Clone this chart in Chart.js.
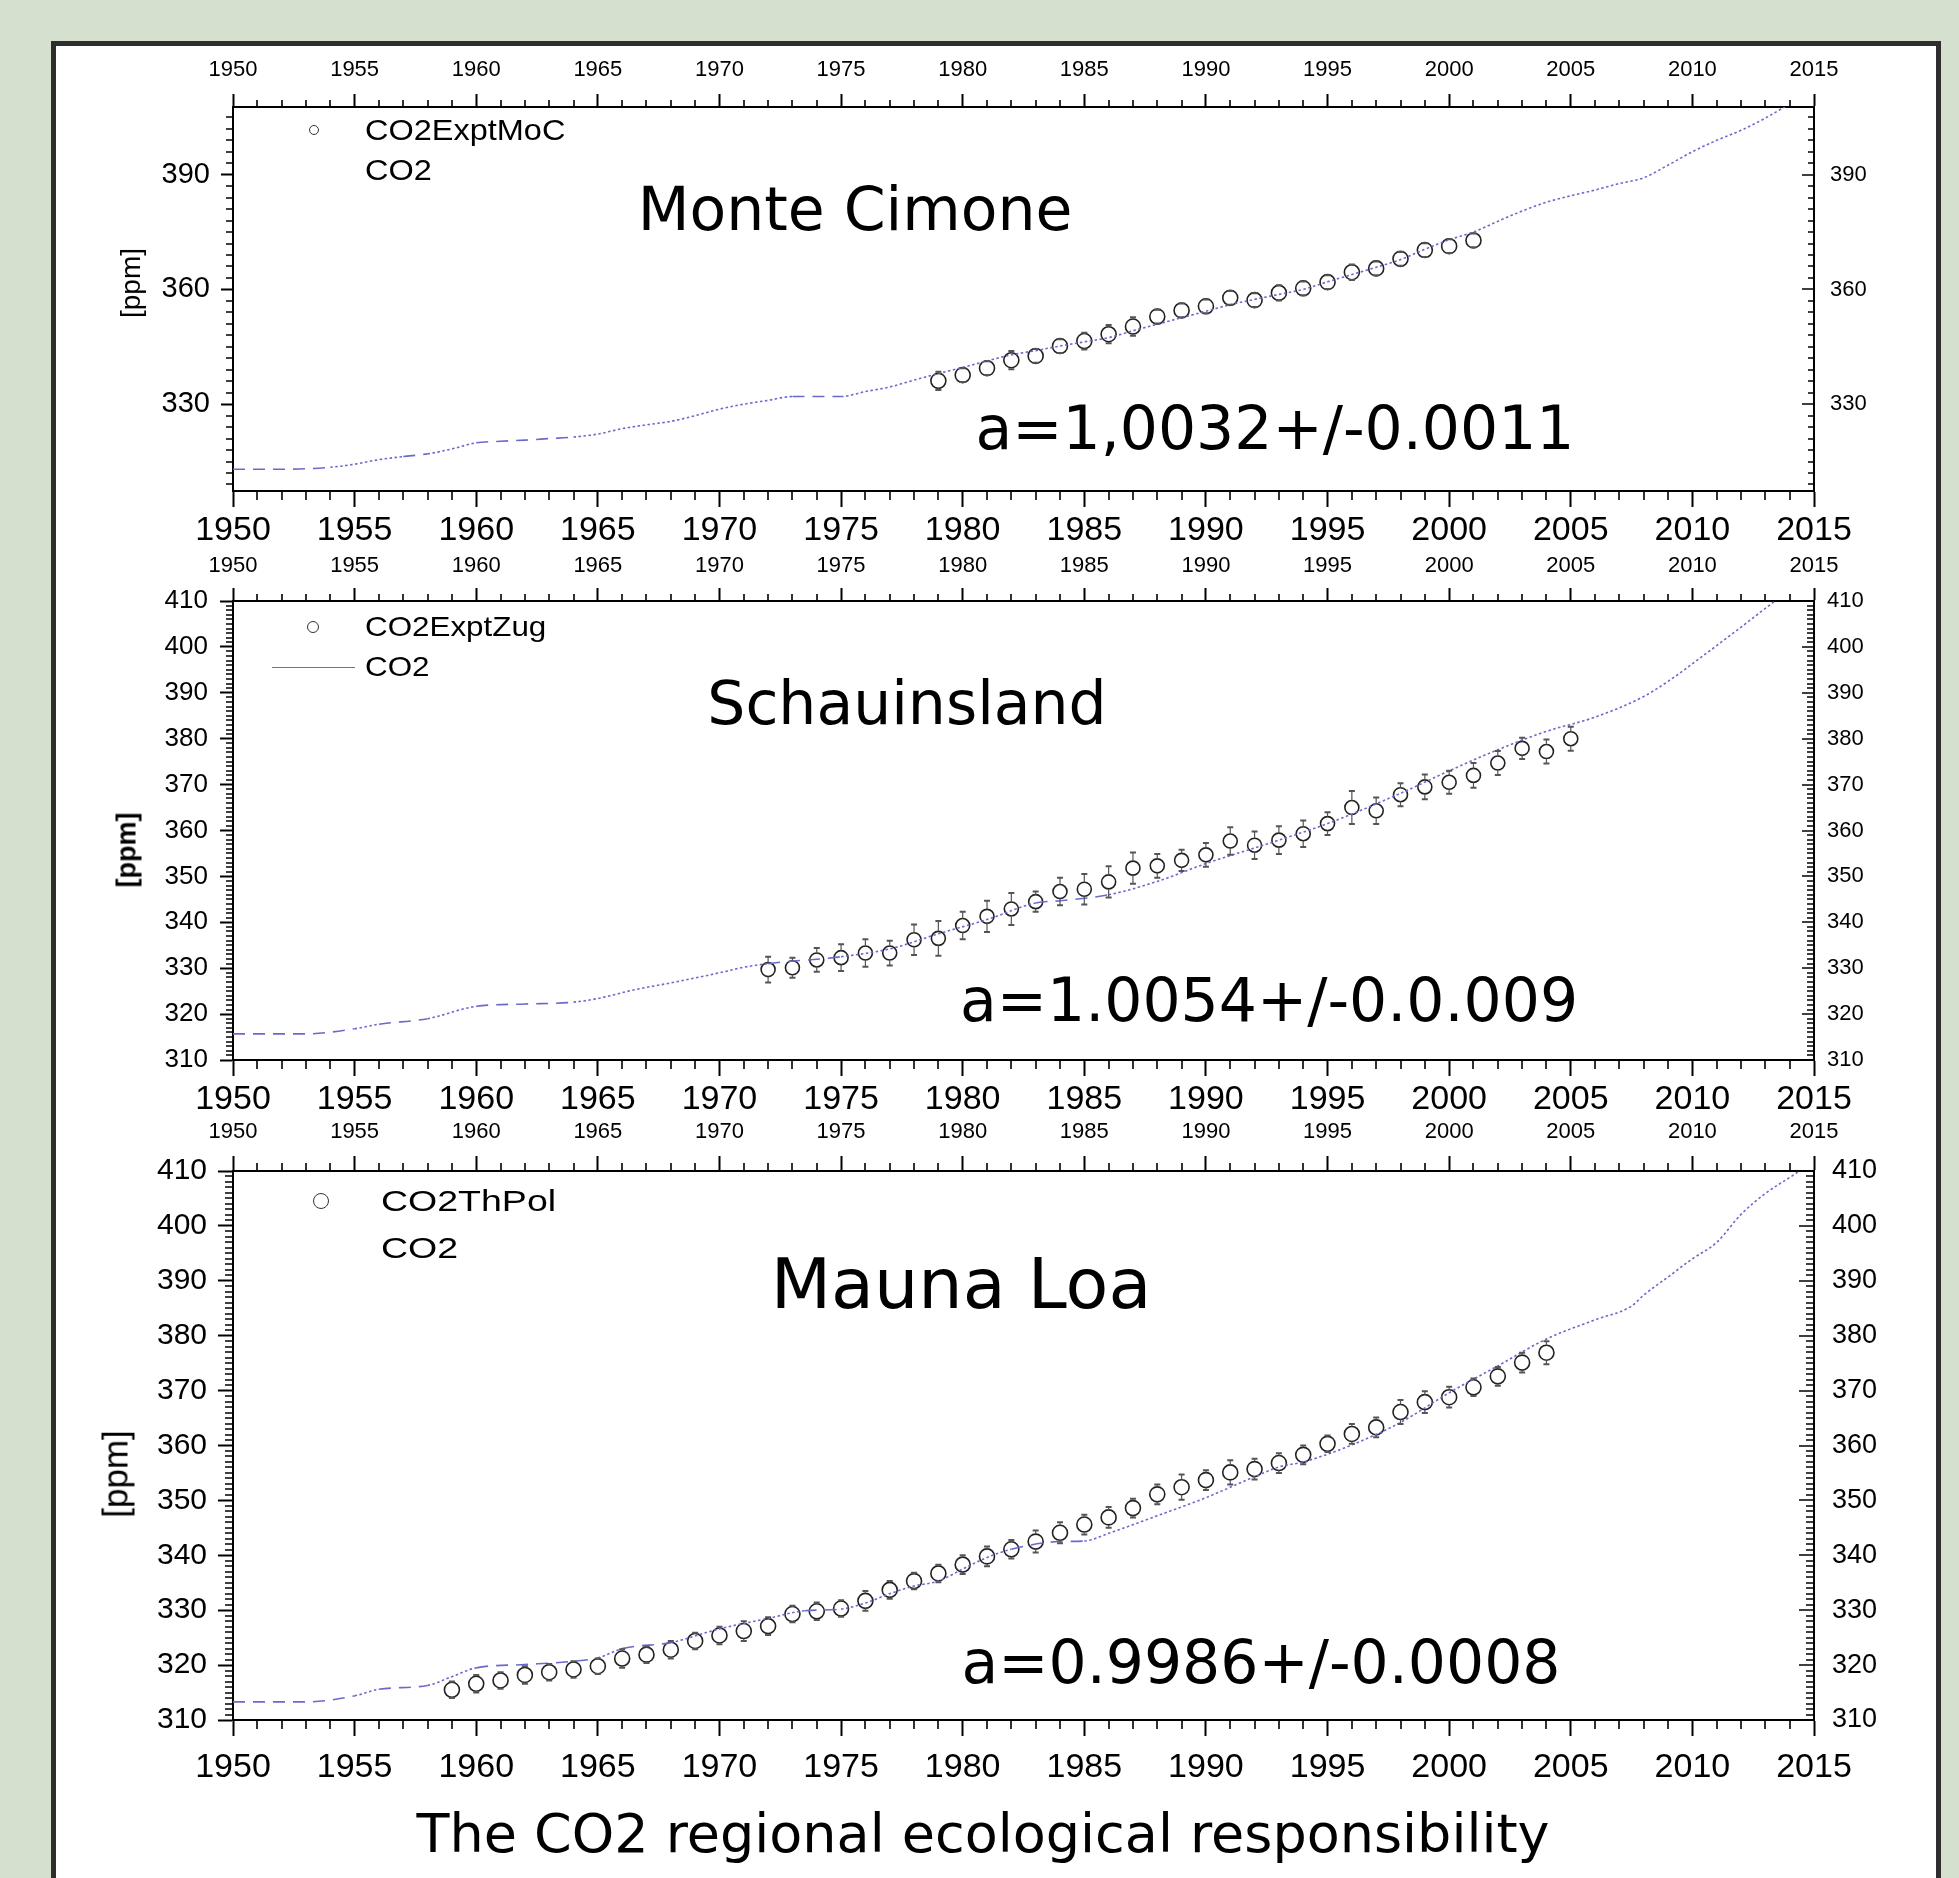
<!DOCTYPE html>
<html>
<head>
<meta charset="utf-8">
<title>The CO2 regional ecological responsibility</title>
<script src="https://cdn.jsdelivr.net/npm/chart.js@4.4.1/dist/chart.umd.min.js"></script>
<style>
  html, body { margin: 0; padding: 0; }
  body {
    width: 1959px; height: 1878px; position: relative; overflow: hidden;
    background: #d6e0cf;
    font-family: 'Liberation Sans', Arial, sans-serif;
  }
  #frame {
    position: absolute; left: 51px; top: 41px; width: 1890px; height: 1900px;
    box-sizing: border-box; background: #fff; border: 5px solid #2e2e2e;
  }
  canvas { position: absolute; left: 0; }
  .t { position: absolute; white-space: nowrap; color: #000; line-height: 1;
       transform: translate(-50%, -50%); font-family: 'DejaVu Sans', Verdana, sans-serif; }
  .leg { position: absolute; white-space: nowrap; color: #000; line-height: 1;
         transform-origin: left center; }
  .ylab { position: absolute; white-space: nowrap; color: #000; line-height: 1;
          transform: translate(-50%, -50%) rotate(-90deg); }
  .mk { position: absolute; border: 1.6px solid #333; border-radius: 50%; box-sizing: border-box;
        transform: translate(-50%, -50%); }
  .ln { position: absolute; height: 0; border-top: 1.5px solid #6a6acb; }
</style>
</head>
<body>
<div id="frame"></div>
<canvas id="p1"></canvas>
<canvas id="p2"></canvas>
<canvas id="p3"></canvas>

<script>
// ---- data ----
// Monte Cimone
const yearsMoC = [1979, 1980, 1981, 1982, 1983, 1984, 1985, 1986, 1987, 1988, 1989, 1990,
  1991, 1992, 1993, 1994, 1995, 1996, 1997, 1998, 1999, 2000, 2001];
const valuesMoC = [336.1, 337.6, 339.4, 341.5, 342.6, 345.2, 346.5, 348.3, 350.3, 352.9, 354.5, 355.6,
  357.8, 357.2, 359.1, 360.3, 361.9, 364.5, 365.5, 368.0, 370.3, 371.3, 372.8];
const errMoC = [2.4, 1.8, 1.8, 2.4, 1.8, 1.8, 2.2, 2.4, 2.4, 1.8, 1.8, 1.8,
  1.8, 1.8, 2.0, 1.8, 1.8, 2.0, 1.8, 1.8, 1.8, 1.8, 1.8];
const co2YearsMoC = [1950, 1952, 1954, 1955, 1956, 1957, 1958, 1959, 1960, 1961, 1962, 1963, 1964,
  1965, 1966, 1967, 1968, 1969, 1970, 1971, 1972, 1973, 1974, 1975, 1976, 1977, 1978, 1979, 1980,
  1981, 1982, 1983, 1984, 1985, 1986, 1987, 1988, 1989, 1990, 1991, 1992, 1993, 1994, 1995, 1996,
  1997, 1998, 1999, 2000, 2001, 2002, 2003, 2004, 2005, 2006, 2007, 2008, 2009, 2010, 2011, 2012,
  2013, 2014, 2015];
const co2MoC = [313.0, 313.0, 313.5, 314.3, 315.5, 316.3, 317.0, 318.3, 319.9, 320.3, 320.6, 321.0, 321.4,
  322.2, 323.6, 324.6, 325.5, 327.0, 328.7, 330.0, 331.0, 332.0, 332.0, 332.0, 333.3, 334.5, 336.3, 338.0, 339.6,
  341.3, 342.9, 344.0, 345.2, 346.3, 347.4, 349.2, 350.9, 352.6, 354.3, 356.0, 357.4, 358.7, 360.0, 362.0, 363.9,
  365.8, 367.8, 370.5, 373.0, 375.0, 377.8, 380.5, 382.8, 384.5, 386.0, 387.7, 389.2, 392.5, 396.0, 399.0, 401.6,
  404.8, 408.5, 412.0];

// Schauinsland
const yearsZug = [1972, 1973, 1974, 1975, 1976, 1977, 1978, 1979, 1980, 1981, 1982, 1983, 1984, 1985,
  1986, 1987, 1988, 1989, 1990, 1991, 1992, 1993, 1994, 1995, 1996, 1997, 1998, 1999, 2000, 2001,
  2002, 2003, 2004, 2005];
const valuesZug = [329.7, 330.1, 331.8, 332.3, 333.3, 333.3, 336.2, 336.5, 339.3, 341.3, 342.9, 344.5, 346.7, 347.2,
  348.8, 351.8, 352.3, 353.5, 354.7, 357.7, 356.8, 357.9, 359.3, 361.5, 365.0, 364.3, 367.8, 369.5, 370.5, 372.0,
  374.7, 377.9, 377.2, 380.0];
const errZug = [2.8, 2.2, 2.6, 2.9, 3.0, 2.7, 3.3, 3.8, 3.0, 3.4, 3.5, 2.2, 3.0, 3.3,
  3.4, 3.4, 2.6, 2.3, 2.6, 3.0, 3.0, 3.0, 2.9, 2.5, 3.6, 2.9, 2.5, 2.7, 2.5, 2.7,
  2.6, 2.3, 2.6, 2.6];
const co2YearsZug = [1950, 1953, 1955, 1956, 1958, 1960, 1962, 1964, 1965, 1966.5, 1968, 1970, 1971, 1972,
  1975, 1977, 1979, 1981, 1983, 1984, 1986, 1988, 1990, 1993, 1995, 1998, 2000, 2002, 2004, 2006, 2008,
  2009, 2010.3, 2012, 2013.4, 2015];
const co2Zug = [315.7, 315.7, 316.8, 317.8, 319.0, 321.7, 322.2, 322.6, 323.4, 325.3, 326.8, 329.0, 330.2, 331.0,
  332.5, 334.2, 337.5, 340.6, 344.2, 344.7, 346.0, 348.9, 352.8, 357.9, 361.5, 368.1, 373.0, 377.6, 381.6, 384.7, 389.2,
  392.5, 397.5, 404.3, 410.0, 416.0];

// Mauna Loa
const yearsThPol = [1959, 1960, 1961, 1962, 1963, 1964, 1965, 1966, 1967, 1968, 1969, 1970, 1971, 1972,
  1973, 1974, 1975, 1976, 1977, 1978, 1979, 1980, 1981, 1982, 1983, 1984, 1985, 1986, 1987, 1988,
  1989, 1990, 1991, 1992, 1993, 1994, 1995, 1996, 1997, 1998, 1999, 2000, 2001, 2002, 2003, 2004];
const valuesThPol = [315.5, 316.6, 317.2, 318.2, 318.7, 319.2, 319.8, 321.2, 321.9, 322.8, 324.4, 325.4, 326.2, 327.1,
  329.3, 329.8, 330.3, 331.7, 333.7, 335.3, 336.7, 338.3, 339.8, 341.1, 342.5, 344.1, 345.6, 346.9, 348.6, 351.1,
  352.4, 353.7, 355.1, 355.7, 356.8, 358.3, 360.3, 362.1, 363.3, 366.1, 367.9, 368.8, 370.6, 372.6, 375.1, 376.9];
const errThPol = [1.5, 1.6, 1.5, 1.6, 1.5, 1.5, 1.4, 1.7, 1.5, 1.6, 1.5, 1.6, 1.8, 1.6,
  1.5, 1.6, 1.5, 1.8, 1.6, 1.5, 1.6, 1.7, 1.8, 1.7, 2.0, 1.9, 1.8, 1.9, 1.7, 1.8,
  2.3, 1.8, 2.2, 1.9, 1.8, 1.7, 1.5, 1.8, 1.8, 2.2, 2.0, 1.9, 1.6, 1.7, 1.8, 2.1];
const co2YearsThPol = [1950, 1953, 1955, 1956, 1958, 1959, 1960, 1962, 1964, 1965, 1966, 1968, 1970, 1972,
  1973.5, 1975, 1976, 1977, 1978, 1979, 1980, 1981, 1982, 1984, 1985, 1986, 1988, 1990, 1992, 1993, 1994,
  1996, 1998, 2000, 2002, 2004, 2006, 2007.5, 2008, 2009, 2010, 2011, 2012, 2013, 2014.3, 2015];
const co2ThPol = [313.3, 313.3, 314.4, 315.6, 316.3, 317.9, 319.5, 320.1, 320.7, 321.3, 323.0, 324.1, 326.6, 328.5,
  329.9, 330.2, 331.3, 333.0, 334.4, 335.3, 337.5, 339.6, 341.1, 342.5, 342.6, 344.0, 347.2, 350.5, 354.3, 356.1, 357.0,
  360.1, 364.2, 369.6, 374.5, 379.4, 382.9, 385.4, 387.4, 390.7, 394.0, 397.0, 402.1, 405.9, 409.7, 412.0];

// axis ranges
const yearMin = 1950, yearMax = 2015, yearStep = 5;
const rangeMoC = [307.3, 407.7], stepMoC = 30;
const rangeZug = [310, 410], stepZug = 10;
const rangeThPol = [310, 410], stepThPol = 10;

const LINE_COLOR = '#6a6acb';
const TICK_FONT = "'Liberation Sans', Arial, sans-serif";

// minor ticks, inward right-hand ticks
const frameTicks = {
  id: 'frameTicks',
  afterDraw(chart, args, o) {
    const { ctx, chartArea: a } = chart;
    const x = chart.scales.x, y = chart.scales.y;
    ctx.save();
    ctx.strokeStyle = '#000';
    ctx.lineWidth = 1.6;
    ctx.beginPath();
    for (let v = x.min; v <= x.max; v += 1) {
      if (v % yearStep === 0) continue;
      const px = Math.round(x.getPixelForValue(v));
      ctx.moveTo(px, a.top); ctx.lineTo(px, a.top - o.topMinor);
      ctx.moveTo(px, a.bottom); ctx.lineTo(px, a.bottom + o.bottomMinor);
    }
    const first = Math.ceil(y.min / o.yMinor) * o.yMinor;
    for (let v = first; v <= y.max + 1e-9; v += o.yMinor) {
      const py = Math.round(y.getPixelForValue(v));
      const major = Math.abs(v / o.yMajor - Math.round(v / o.yMajor)) < 1e-6;
      if (!major) { ctx.moveTo(a.left, py); ctx.lineTo(a.left - o.leftMinor, py); }
      ctx.moveTo(a.right, py); ctx.lineTo(a.right - (major ? o.rightMajor : o.rightMinor), py);
    }
    ctx.stroke();
    ctx.restore();
  }
};

// vertical error bars from the errors array of a dataset
const errorBars = {
  id: 'errorBars',
  afterDatasetsDraw(chart) {
    const { ctx } = chart;
    const ys = chart.scales.y;
    chart.data.datasets.forEach((ds, i) => {
      if (!ds.errors) return;
      const meta = chart.getDatasetMeta(i);
      const r = ds.pointRadius;
      ctx.save();
      ctx.strokeStyle = '#555';
      meta.data.forEach((pt, j) => {
        const v = ds.data[j].y, e = ds.errors[j];
        const top = ys.getPixelForValue(v + e), bot = ys.getPixelForValue(v - e);
        ctx.lineWidth = 1.2;
        ctx.beginPath();
        if (top < pt.y - r) { ctx.moveTo(pt.x, pt.y - r); ctx.lineTo(pt.x, top); }
        if (bot > pt.y + r) { ctx.moveTo(pt.x, pt.y + r); ctx.lineTo(pt.x, bot); }
        ctx.stroke();
        ctx.lineWidth = 2;
        ctx.beginPath();
        ctx.moveTo(pt.x - 3, top); ctx.lineTo(pt.x + 3, top);
        ctx.moveTo(pt.x - 3, bot); ctx.lineTo(pt.x + 3, bot);
        ctx.stroke();
      });
      ctx.restore();
    });
  }
};

const panels = [
  {
    id: 'p1', top: 45, height: 505, xH: 59, x2H: 62,
    years: yearsMoC, values: valuesMoC, errors: errMoC, name: 'CO2ExptMoC', r: 7.5,
    lineYears: co2YearsMoC, lineValues: co2MoC, range: rangeMoC, step: stepMoC,
    yFont: 29, yPad: 11, yTick: 12, y2Font: 22, y2Pad: 16, xPad: 3, x2Pad: 11, x2Tick: 13,
    minor: { yMinor: 3, yMajor: 30, topMinor: 7, bottomMinor: 9, leftMinor: 7, rightMajor: 12, rightMinor: 6 }
  },
  {
    id: 'p2', top: 550, height: 566, xH: 56, x2H: 51,
    years: yearsZug, values: valuesZug, errors: errZug, name: 'CO2ExptZug', r: 7,
    lineYears: co2YearsZug, lineValues: co2Zug, range: rangeZug, step: stepZug,
    yFont: 26, yPad: 12, yTick: 13, y2Font: 22, y2Pad: 13, xPad: 3, x2Pad: 9, x2Tick: 13,
    minor: { yMinor: 1, yMajor: 10, topMinor: 7, bottomMinor: 9, leftMinor: 7, rightMajor: 12, rightMinor: 7 }
  },
  {
    id: 'p3', top: 1116, height: 684, xH: 80, x2H: 55,
    years: yearsThPol, values: valuesThPol, errors: errThPol, name: 'CO2ThPol', r: 7.5,
    lineYears: co2YearsThPol, lineValues: co2ThPol, range: rangeThPol, step: stepThPol,
    yFont: 30, yPad: 11, yTick: 15, y2Font: 27, y2Pad: 18, xPad: 11, x2Pad: 11, x2Tick: 15,
    minor: { yMinor: 1, yMajor: 10, topMinor: 8, bottomMinor: 9, leftMinor: 8, rightMajor: 15, rightMinor: 8 }
  }
];

function xAxis(p, pos) {
  const top = pos === 'top';
  return {
    type: 'linear', position: pos, min: yearMin, max: yearMax,
    ticks: {
      stepSize: yearStep, autoSkip: false, maxRotation: 0, color: '#000',
      font: { family: TICK_FONT, size: top ? 22 : 34 },
      padding: top ? p.x2Pad : p.xPad,
      callback: v => String(v)
    },
    grid: { drawOnChartArea: false, tickLength: top ? p.x2Tick : 16, tickWidth: 2, color: '#000', tickColor: '#000' },
    border: { color: '#000', width: 2 },
    afterFit: s => { s.height = top ? p.x2H : p.xH; }
  };
}

function yAxis(p, pos) {
  const left = pos === 'left';
  return {
    type: 'linear', position: pos, min: p.range[0], max: p.range[1],
    ticks: {
      stepSize: p.step, includeBounds: false, autoSkip: false, color: '#000',
      font: { family: TICK_FONT, size: left ? p.yFont : p.y2Font },
      padding: left ? p.yPad : p.y2Pad,
      callback: v => String(v)
    },
    grid: left
      ? { drawOnChartArea: false, tickLength: p.yTick, tickWidth: 2, color: '#000', tickColor: '#000' }
      : { drawOnChartArea: false, drawTicks: false },
    border: { color: '#000', width: 2 },
    afterFit: s => { s.width = left ? 233 : 145; }
  };
}

function makePanel(p) {
  const cv = document.getElementById(p.id);
  cv.width = 1959; cv.height = p.height;
  cv.style.top = p.top + 'px';
  cv.style.width = '1959px'; cv.style.height = p.height + 'px';

  new Chart(cv, {
    type: 'line',
    data: {
      datasets: [
        {
          label: 'CO2',
          data: p.lineYears.map((yr, i) => ({ x: yr, y: p.lineValues[i] })),
          borderColor: LINE_COLOR, borderWidth: 1.6, pointRadius: 0, fill: false,
          cubicInterpolationMode: 'monotone',
          segment: {
            borderDash: c => {
              const s = Math.abs((c.p1.parsed.y - c.p0.parsed.y) / (c.p1.parsed.x - c.p0.parsed.x));
              return s < 0.7 ? [12, 8] : [2.5, 2.5];
            }
          }
        },
        {
          label: p.name,
          data: p.years.map((yr, i) => ({ x: yr, y: p.values[i] })),
          errors: p.errors,
          showLine: false, pointRadius: p.r, pointBorderWidth: 1.6,
          pointBorderColor: '#222', pointBackgroundColor: 'rgba(0,0,0,0)'
        }
      ]
    },
    options: {
      responsive: false, animation: false, devicePixelRatio: 1,
      layout: { padding: 0 },
      plugins: { legend: { display: false }, tooltip: { enabled: false }, frameTicks: p.minor },
      scales: {
        x: xAxis(p, 'bottom'),
        x2: xAxis(p, 'top'),
        y: yAxis(p, 'left'),
        y2: yAxis(p, 'right')
      }
    },
    plugins: [frameTicks, errorBars]
  });
}

panels.forEach(makePanel);

// ---- text: titles, fit results, axis titles, legends ----
function addText(cls, txt, x, y, css) {
  const d = document.createElement('div');
  d.className = cls;
  d.textContent = txt;
  d.style.left = x + 'px';
  d.style.top = y + 'px';
  Object.assign(d.style, css || {});
  document.body.appendChild(d);
  return d;
}

addText('t', 'Monte Cimone', 855, 209, { fontSize: '60px' });
addText('t', 'Schauinsland', 907, 703, { fontSize: '60px' });
addText('t', 'Mauna Loa', 961, 1284, { fontSize: '70px' });
addText('t', 'a=1,0032+/-0.0011', 1275, 428, { fontSize: '60px' });
addText('t', 'a=1.0054+/-0.0.009', 1269, 1000, { fontSize: '60px' });
addText('t', 'a=0.9986+/-0.0008', 1261, 1662, { fontSize: '60px' });
addText('t', 'The CO2 regional ecological responsibility', 983, 1834, { fontSize: '54px' });

addText('ylab', '[ppm]', 131, 283, { fontSize: '28px' });
addText('ylab', '[ppm]', 127, 850, { fontSize: '27px', fontWeight: 'bold' });
addText('ylab', '[ppm]', 115, 1474, { fontSize: '35px' });

// legends
const legends = [
  { name: 'CO2ExptMoC', mx: 314, my: 130, mr: 5, tx: 365, ty1: 130, ty2: 170, size: 29, sx: 1.12, line: false },
  { name: 'CO2ExptZug', mx: 313, my: 627, mr: 6, tx: 365, ty1: 627, ty2: 667, size: 28, sx: 1.12, line: true },
  { name: 'CO2ThPol', mx: 321, my: 1201, mr: 8, tx: 381, ty1: 1201, ty2: 1248, size: 30, sx: 1.25, line: false }
];
legends.forEach(l => {
  const m = document.createElement('div');
  m.className = 'mk';
  Object.assign(m.style, { left: l.mx + 'px', top: l.my + 'px', width: 2 * l.mr + 'px', height: 2 * l.mr + 'px' });
  document.body.appendChild(m);
  const tf = `translate(0, -50%) scaleX(${l.sx})`;
  addText('leg', l.name, l.tx, l.ty1, { fontSize: l.size + 'px', transform: tf });
  addText('leg', 'CO2', l.tx, l.ty2, { fontSize: l.size + 'px', transform: tf });
  if (l.line) {
    const ln = document.createElement('div');
    ln.className = 'ln';
    Object.assign(ln.style, { left: '272px', top: l.ty2 + 'px', width: '83px' });
    document.body.appendChild(ln);
  }
});
</script>
</body>
</html>
